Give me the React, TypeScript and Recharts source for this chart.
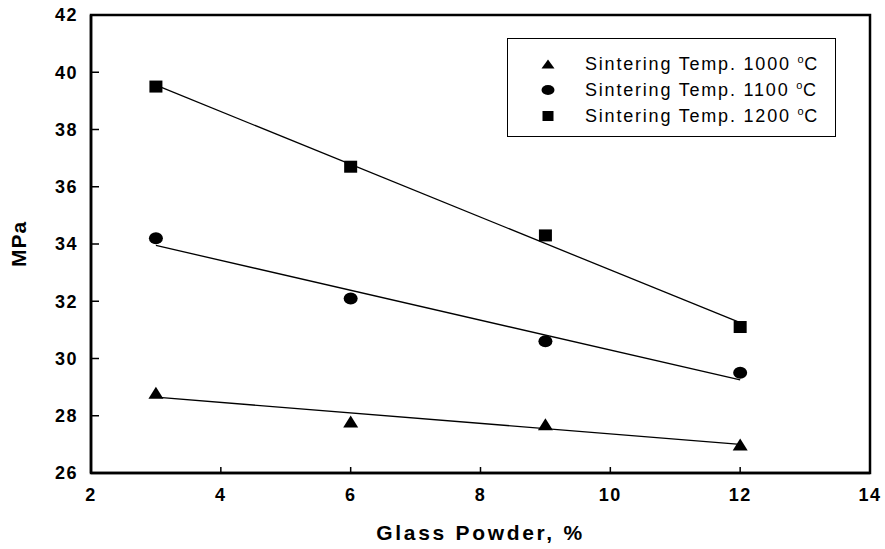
import { ComposedChart, Scatter, XAxis, YAxis, ReferenceArea, Legend } from 'recharts';

const glassPct = [3, 6, 9, 12];
const mpa1000 = [28.8, 27.8, 27.7, 27.0];
const mpa1100 = [34.2, 32.1, 30.6, 29.5];
const mpa1200 = [39.5, 36.7, 34.3, 31.1];

// linear fit lines, values at 3 % and 12 %
const fitPct = [3, 12];
const fit1000 = [28.65, 27.0];
const fit1100 = [33.95, 29.25];
const fit1200 = [39.55, 31.25];

const xTicks = [2, 4, 6, 8, 10, 12, 14];
const yTicks = [26, 28, 30, 32, 34, 36, 38, 40, 42];

const FONT = '"Liberation Sans", Arial, sans-serif';

type Marker = 'triangle' | 'circle' | 'square';

const series: { temp: string; values: number[]; fit: number[]; marker: Marker }[] = [
  { temp: '1000', values: mpa1000, fit: fit1000, marker: 'triangle' },
  { temp: '1100', values: mpa1100, fit: fit1100, marker: 'circle' },
  { temp: '1200', values: mpa1200, fit: fit1200, marker: 'square' },
];

const toPoints = (xs: number[], ys: number[]) => xs.map((x, i) => ({ x, y: ys[i] }));

function MarkerGlyph({ kind, cx, cy, w, h }: { kind: Marker; cx: number; cy: number; w: number; h: number }) {
  if (kind === 'triangle') {
    return <polygon points={`${cx - w / 2},${cy + h / 2} ${cx + w / 2},${cy + h / 2} ${cx},${cy - h / 2}`} fill='#000' />;
  }
  if (kind === 'circle') {
    return <ellipse cx={cx} cy={cy} rx={w / 2} ry={h / 2} fill='#000' />;
  }
  return <rect x={cx - w / 2} y={cy - h / 2} width={w} height={h} fill='#000' />;
}

const markerSize: Record<Marker, [number, number]> = {
  triangle: [15, 12],
  circle: [14, 12],
  square: [13, 12],
};

function LegendBox() {
  return (
    <div style={{
      boxSizing: 'border-box', width: 329, height: 99, border: '1px solid #000', background: '#fff',
      paddingTop: 12, fontFamily: FONT, fontSize: 18, letterSpacing: 1.8, color: '#000',
    }}>
      {series.map(s => (
        <div key={s.temp} style={{ height: 26, display: 'flex', alignItems: 'center' }}>
          <svg width={77} height={26} style={{ flex: 'none' }}>
            <MarkerGlyph kind={s.marker} cx={40} cy={13} w={s.marker === 'square' ? 11 : 13} h={s.marker === 'triangle' ? 9 : 10} />
          </svg>
          <span style={{ whiteSpace: 'nowrap' }}>
            Sintering Temp. {s.temp} <span style={{ fontSize: 11, verticalAlign: 7, letterSpacing: 0.5 }}>o</span>C
          </span>
        </div>
      ))}
    </div>
  );
}

export default function App() {
  const tickStyle = { fontSize: 18, fontWeight: 700, fill: '#000', fontFamily: FONT, letterSpacing: 1.5 };
  return (
    <div style={{ position: 'absolute', left: 0, top: 0, background: '#fff' }}>
      <ComposedChart width={885} height={549} margin={{ top: 15, right: 15, bottom: 0, left: 0 }}>
        <XAxis
          type='number' dataKey='x' domain={[2, 14]} ticks={xTicks} allowDataOverflow
          height={76} tickSize={-6} tickMargin={21} tick={tickStyle}
          axisLine={{ stroke: '#000', strokeWidth: 2.5 }} tickLine={{ stroke: '#000', strokeWidth: 1.5 }}
          label={{ value: 'Glass Powder, %', position: 'center', dy: 22, style: { fontSize: 21, fontWeight: 700, fill: '#000', fontFamily: FONT, letterSpacing: 2.7 } }}
        />
        <YAxis
          type='number' dataKey='y' domain={[26, 42]} ticks={yTicks} allowDataOverflow
          width={91} tickSize={-8} tickMargin={21} tick={tickStyle}
          axisLine={{ stroke: '#000', strokeWidth: 2.5 }} tickLine={{ stroke: '#000', strokeWidth: 1.5 }}
          label={{ value: 'MPa', angle: -90, position: 'center', dx: -27, style: { fontSize: 21, fontWeight: 700, fill: '#000', fontFamily: FONT, letterSpacing: 1 } }}
        />
        <ReferenceArea x1={2} x2={14} y1={26} y2={42} fill='none' stroke='#000' strokeWidth={2.5} ifOverflow='visible' />
        {series.map(s => (
          <Scatter
            key={`fit-${s.temp}`} data={toPoints(fitPct, s.fit)} isAnimationActive={false}
            line={{ stroke: '#000', strokeWidth: 1.3 }} shape={() => <g />} legendType='none'
          />
        ))}
        {series.map(s => (
          <Scatter
            key={`pts-${s.temp}`} name={`Sintering Temp. ${s.temp} °C`} data={toPoints(glassPct, s.values)} isAnimationActive={false}
            shape={(p: any) => <MarkerGlyph kind={s.marker} cx={p.cx} cy={p.cy} w={markerSize[s.marker][0]} h={markerSize[s.marker][1]} />}
          />
        ))}
        <Legend
          layout='vertical' align='center' verticalAlign='middle'
          wrapperStyle={{ left: 507, top: 38, width: 329, height: 99 }}
          content={() => <LegendBox />}
        />
      </ComposedChart>
    </div>
  );
}
